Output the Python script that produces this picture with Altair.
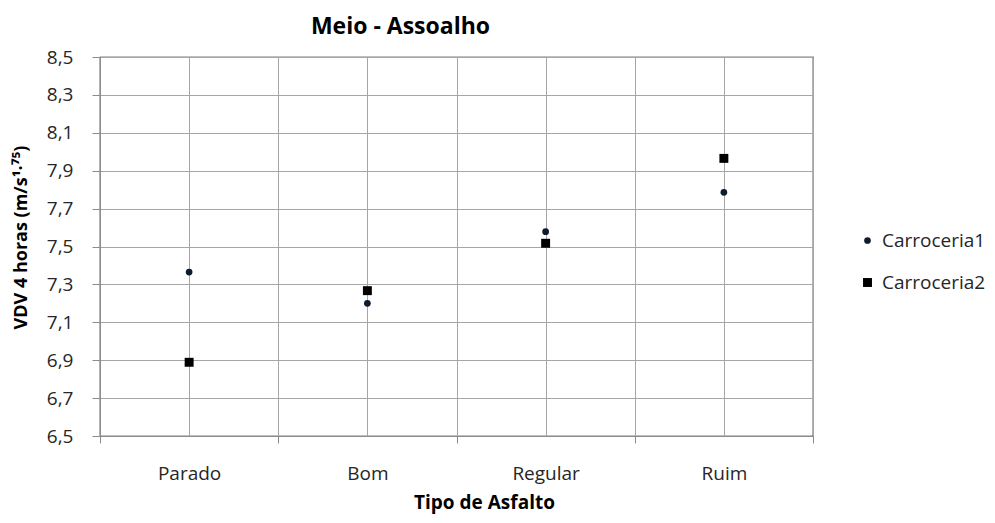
import json
import altair as alt
import pandas as pd

categories = ["Parado", "Bom", "Regular", "Ruim"]
series_names = ["Carroceria1", "Carroceria2"]
carroceria1 = [7.365, 7.200, 7.578, 7.786]
carroceria2 = [6.889, 7.267, 7.517, 7.965]
y_ticks = [6.5, 6.7, 6.9, 7.1, 7.3, 7.5, 7.7, 7.9, 8.1, 8.3, 8.5]
x_grid = [0, 0.5, 1, 1.5, 2, 2.5, 3, 3.5, 4]

rows = []
for i, cat in enumerate(categories):
    rows.append({"pos": i + 0.5, "cat": cat, "serie": series_names[0], "v": carroceria1[i]})
    rows.append({"pos": i + 0.5, "cat": cat, "serie": series_names[1], "v": carroceria2[i]})
df = pd.DataFrame(rows)

FONT = "Open Sans"
TXT = "#262626"
cat_js = json.dumps(categories)

legend_kw = dict(
    title=None,
    orient="none",
    legendX=758,
    legendY=174,
    labelFont=FONT,
    labelFontSize=19,
    labelColor=TXT,
    symbolSize=35,
    rowPadding=22,
    labelOffset=5,
)

chart = alt.Chart(df).mark_point(filled=True, opacity=1).encode(
    x=alt.X(
        "pos:Q",
        scale=alt.Scale(domain=[0, 4], nice=False, zero=False),
        axis=alt.Axis(
            title="Tipo de Asfalto",
            values=x_grid,
            labelExpr=f"datum.value % 1 == 0.5 ? {cat_js}[floor(datum.value)] : ''",
            grid=True,
            gridColor="#a6a6a6",
            gridOpacity=1,
            domainColor="#8c8c8c",
            tickColor={"condition": {"test": "datum.value % 1 == 0", "value": "#8c8c8c"}, "value": "transparent"},
            tickSize=7,
            labelPadding=21,
            labelFontSize=19,
            labelFont=FONT,
            labelColor=TXT,
            titleFont=FONT,
            titleFontSize=19,
            titleFontWeight="bold",
            titleColor="#000000",
            titleX=384,
            titleY=72,
            titleBaseline="alphabetic",
            titleAlign="center",
            labelFlush=False,
            labelOverlap=False,
        ),
    ),
    y=alt.Y(
        "v:Q",
        scale=alt.Scale(domain=[6.5, 8.5], nice=False, zero=False),
        axis=alt.Axis(
            title="VDV 4 horas (m/s¹·⁷⁵)",
            values=y_ticks,
            labelExpr="replace(format(datum.value, '.1f'), '.', ',')",
            grid=True,
            gridColor="#a6a6a6",
            gridOpacity=1,
            domainColor="#8c8c8c",
            tickColor="#8c8c8c",
            tickSize=8,
            labelPadding=19,
            labelFontSize=19,
            labelFont=FONT,
            labelColor=TXT,
            titleFont=FONT,
            titleFontSize=18,
            titleFontWeight="bold",
            titleColor="#000000",
            titleX=-74,
            titleY=180,
            titleAngle=270,
            titleBaseline="alphabetic",
            titleAlign="center",
            labelFlush=False,
            labelOverlap=False,
        ),
    ),
    shape=alt.Shape(
        "serie:N",
        scale=alt.Scale(domain=series_names, range=["circle", "square"]),
        legend=alt.Legend(**legend_kw),
    ),
    color=alt.Color(
        "serie:N",
        scale=alt.Scale(domain=series_names, range=["#0d1b2e", "#000000"]),
        legend=alt.Legend(**legend_kw),
    ),
    size=alt.Size(
        "serie:N",
        scale=alt.Scale(domain=series_names, range=[45, 80]),
        legend=None,
    ),
).properties(
    width=713,
    height=379,
    title=alt.TitleParams(
        "Meio - Assoalho",
        font=FONT,
        fontSize=23,
        fontWeight="bold",
        color="#000000",
        anchor="middle",
        dx=-56,
        offset=9,
    ),
    autosize=alt.AutoSizeParams(type="none"),
    padding={"left": 92, "top": 49, "right": 174, "bottom": 80},
).configure_view(
    stroke="#000000",
    strokeWidth=1.2,
)

chart.save("out.html", embed_options={"renderer": "svg", "actions": False})
